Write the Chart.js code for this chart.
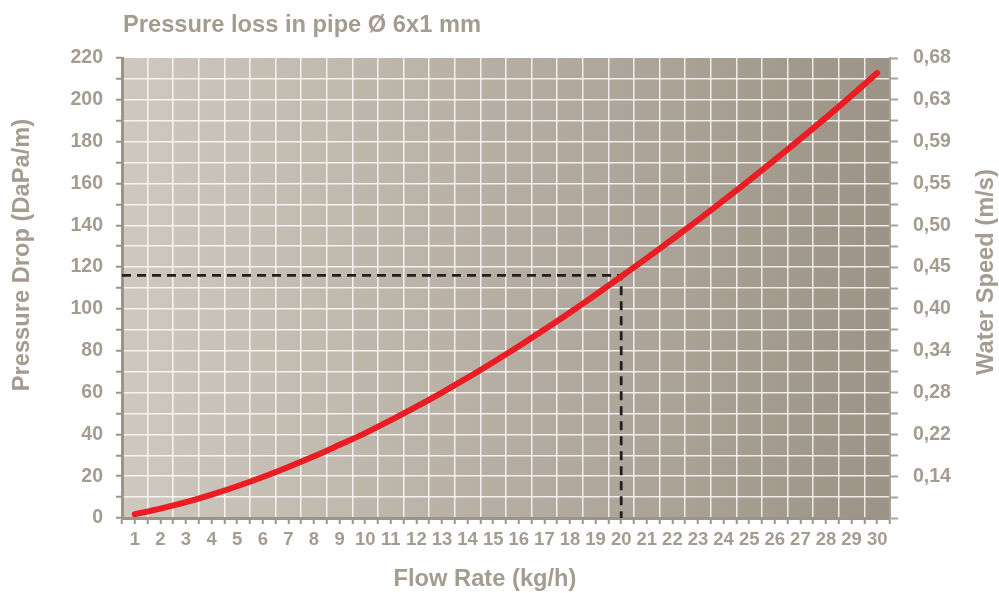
<!DOCTYPE html>
<html>
<head>
<meta charset="utf-8">
<title>Pressure loss in pipe</title>
<script src="https://cdn.jsdelivr.net/npm/chart.js@4/dist/chart.umd.min.js"></script>
<style>
    html, body { margin: 0; padding: 0; background: #ffffff; }
</style>
</head>
<body>
<canvas id="pressureChart" width="999" height="593"></canvas>
<script>
// Flow rate (kg/h) on the x axis
var flowRate = [1, 2, 3, 4, 5, 6, 7, 8, 9, 10, 11, 12, 13, 14, 15,
    16, 17, 18, 19, 20, 21, 22, 23, 24, 25, 26, 27, 28, 29, 30];

// Pressure drop (DaPa/m)
var pressureDrop = [1.8, 4.5, 7.6, 11.2, 15.2, 19.6, 24.4, 29.5, 35.0, 40.6,
    46.8, 53.3, 60.0, 67.1, 74.5, 82.1, 90.1, 98.3, 106.8, 115.5,
    124.3, 133.3, 142.5, 151.9, 161.5, 171.3, 181.3, 191.5, 202.0, 212.8];

// Example reading drawn dashed: 20 kg/h -> 116 DaPa/m
var markerFlow = 20;
var markerPressure = 116;

// Right axis labels sit on the left axis ticks
var pressureTicks = [20, 40, 60, 80, 100, 120, 140, 160, 180, 200, 220];
var speedLabels = ['0,14', '0,22', '0,28', '0,34', '0,40', '0,45', '0,50', '0,55', '0,59', '0,63', '0,68'];

var chartTitle = 'Pressure loss in pipe \u00D8 6x1 mm';
var xTitle = 'Flow Rate (kg/h)';
var yTitle = 'Pressure Drop (DaPa/m)';
var y2Title = 'Water Speed (m/s)';

var textColor = '#a59c91';
var axisColor = '#9d9489';
var gridColor = 'rgba(255, 255, 255, 0.8)';
var titleFont = 'bold 23.7px "Liberation Sans", Arial, sans-serif';

Chart.defaults.font.family = '"Liberation Sans", Arial, sans-serif';
Chart.defaults.color = textColor;

var curvePoints = flowRate.map(function (f, i) {
    return { x: f, y: pressureDrop[i] };
});

var markerPoints = [
    { x: 0.5, y: markerPressure },
    { x: markerFlow, y: markerPressure },
    { x: markerFlow, y: 0 }
];

// gradient behind the grid, titles on top
var decorPlugin = {
    id: 'decor',
    beforeDraw: function (chart) {
        var ctx = chart.ctx;
        var a = chart.chartArea;
        var g = ctx.createLinearGradient(a.left, 0, a.right, 0);
        g.addColorStop(0, '#cfc8be');
        g.addColorStop(1, '#9c9386');
        ctx.save();
        ctx.fillStyle = g;
        ctx.fillRect(a.left, a.top, a.right - a.left, a.bottom - a.top);
        ctx.restore();
    },
    afterDraw: function (chart) {
        var ctx = chart.ctx;
        ctx.save();
        ctx.fillStyle = textColor;
        ctx.font = titleFont;
        ctx.textBaseline = 'alphabetic';
        ctx.textAlign = 'left';
        ctx.fillText(chartTitle, 123, 32);
        ctx.textAlign = 'center';
        ctx.fillText(xTitle, 485, 586);
        ctx.restore();

        ctx.save();
        ctx.fillStyle = textColor;
        ctx.font = titleFont;
        ctx.textAlign = 'center';
        ctx.textBaseline = 'alphabetic';
        ctx.translate(29, 255);
        ctx.rotate(-Math.PI / 2);
        ctx.fillText(yTitle, 0, 0);
        ctx.restore();

        ctx.save();
        ctx.fillStyle = textColor;
        ctx.font = titleFont;
        ctx.textAlign = 'center';
        ctx.textBaseline = 'alphabetic';
        ctx.translate(993, 272);
        ctx.rotate(-Math.PI / 2);
        ctx.fillText(y2Title, 0, 0);
        ctx.restore();
    }
};

var chart = new Chart(document.getElementById('pressureChart'), {
    type: 'line',
    data: {
        datasets: [{
            data: curvePoints,
            borderColor: '#ec1c24',
            borderWidth: 6,
            borderCapStyle: 'round',
            pointRadius: 0,
            cubicInterpolationMode: 'monotone',
            yAxisID: 'y'
        }, {
            data: markerPoints,
            borderColor: '#231f20',
            borderWidth: 2.8,
            borderDash: [9, 6],
            pointRadius: 0,
            tension: 0,
            yAxisID: 'y'
        }]
    },
    options: {
        responsive: false,
        animation: false,
        layout: { padding: { top: 58, left: 0, right: 0, bottom: 0 } },
        plugins: {
            legend: { display: false },
            tooltip: { enabled: false }
        },
        scales: {
            x: {
                type: 'linear',
                min: 0.5,
                max: 30.5,
                afterFit: function (scale) { scale.height = 75; },
                border: { display: true, color: axisColor, width: 3 },
                grid: {
                    color: function (c) {
                        var v = c.tick.value;
                        if (Number.isInteger(v) || v <= 0.5 || v >= 30.5) return 'rgba(0,0,0,0)';
                        return gridColor;
                    },
                    lineWidth: 1.5,
                    tickColor: axisColor,
                    tickWidth: 2,
                    tickLength: 6
                },
                ticks: {
                    stepSize: 0.5,
                    autoSkip: false,
                    maxRotation: 0,
                    padding: 5,
                    font: { size: 18.5, weight: 'bold' },
                    callback: function (value) {
                        return Number.isInteger(value) ? String(value) : '';
                    }
                }
            },
            y: {
                position: 'left',
                min: 0,
                max: 220,
                afterFit: function (scale) { scale.width = 122; },
                border: { display: true, color: axisColor, width: 3 },
                grid: {
                    color: function (c) {
                        var v = c.tick.value;
                        return (v <= 0 || v >= 220) ? 'rgba(0,0,0,0)' : gridColor;
                    },
                    lineWidth: 1.5,
                    tickColor: axisColor,
                    tickWidth: 2,
                    tickLength: 6
                },
                ticks: {
                    stepSize: 10,
                    autoSkip: false,
                    padding: 13,
                    font: { size: 19.5, weight: 'bold' },
                    callback: function (value) {
                        return value % 20 === 0 ? String(value) : '';
                    }
                }
            },
            y2: {
                position: 'right',
                min: 0,
                max: 220,
                afterFit: function (scale) { scale.width = 109; },
                border: { display: true, color: '#aaa196', width: 2 },
                grid: {
                    drawOnChartArea: false,
                    tickColor: '#aaa196',
                    tickWidth: 2,
                    tickLength: 8
                },
                ticks: {
                    stepSize: 10,
                    autoSkip: false,
                    padding: 15,
                    font: { size: 19.5, weight: 'bold' },
                    callback: function (value) {
                        var i = pressureTicks.indexOf(value);
                        return i >= 0 ? speedLabels[i] : '';
                    }
                }
            }
        }
    },
    plugins: [decorPlugin]
});
</script>
</body>
</html>
